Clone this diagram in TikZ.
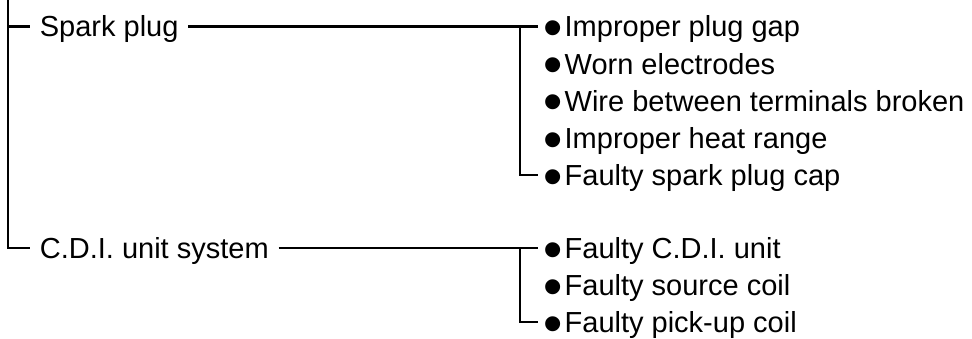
\documentclass[tikz,border=0pt]{standalone}
\usepackage{graphicx}
\usepackage{fontspec}
\setmainfont{Liberation Sans}
\usetikzlibrary{positioning}
\newcommand{\bul}{\kern-0.15em\raisebox{-0.34em}[0pt][0pt]{\scalebox{1.9}{\textbullet}}\kern0.08em}

\begin{document}
\begin{tikzpicture}[x=0.5pt,y=-0.5pt,node distance=7.75pt,
  every node/.style={font=\fontsize{14.5}{17}\selectfont,inner xsep=4.75pt,
    inner ysep=0pt,text height=10.4pt,text depth=0pt},
  link/.style={line width=1.2pt}]
  \useasboundingbox (0,0) rectangle (972,338);
  \coordinate (trunk) at (8,0);
  \node (spark) [anchor=west] at (30,26.5) {Spark plug};
  \node (cdi) [anchor=west] at (30,248) {C.D.I. unit system};

  % spark plug causes
  \node (gap) [anchor=west] at (537.5,26.5) {\bul Improper plug gap};
  \node (worn) [below=of gap.south west,anchor=north west] {\bul Worn electrodes};
  \node (wire) [below=of worn.south west,anchor=north west] {\bul Wire between terminals broken};
  \node (heat) [below=of wire.south west,anchor=north west] {\bul Improper heat range};
  \node (cap) [below=of heat.south west,anchor=north west] {\bul Faulty spark plug cap};

  % C.D.I. causes
  \node (unit) [anchor=west] at (537.5,248) {\bul Faulty C.D.I. unit};
  \node (source) [below=of unit.south west,anchor=north west] {\bul Faulty source coil};
  \node (pickup) [below=of source.south west,anchor=north west] {\bul Faulty pick-up coil};

  \coordinate (sj) at ([xshift=-8.75pt]gap.west);
  \coordinate (cj) at ([xshift=-8.75pt]unit.west);

  \draw[link] (trunk) |- (cdi.west);
  \draw[link] (trunk |- spark.west) -- (spark.west);
  \draw[link] (spark.east) -- (gap.west);
  \draw[link] (sj) |- (cap.west);
  \draw[link] (cdi.east) -- (unit.west);
  \draw[link] (cj) |- (pickup.west);
\end{tikzpicture}
\end{document}
